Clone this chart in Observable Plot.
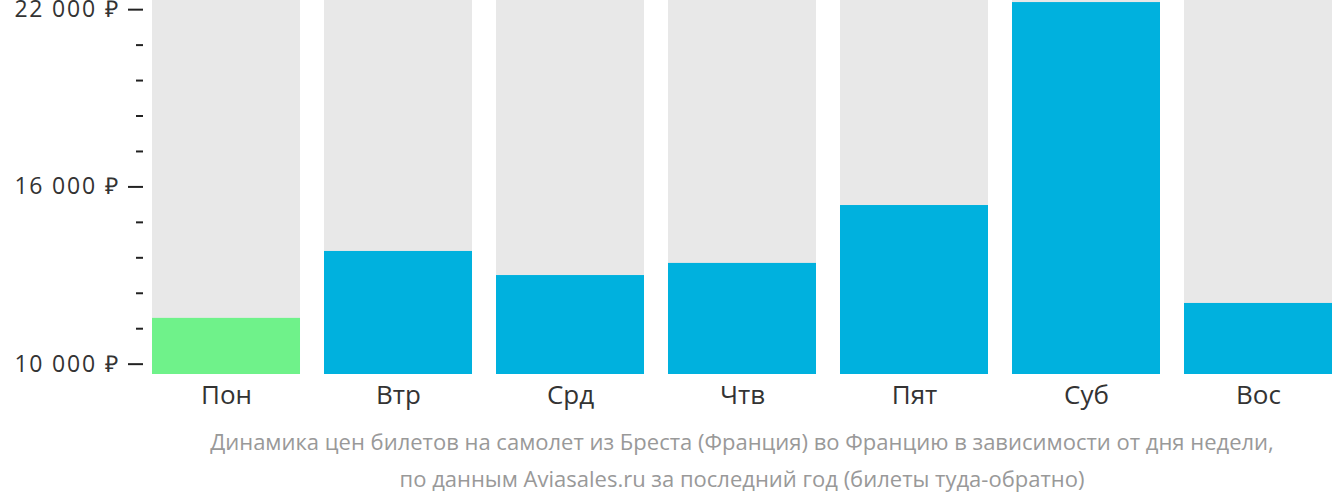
<!DOCTYPE html>
<html><head><meta charset="utf-8">
<script src="https://cdn.jsdelivr.net/npm/d3@7"></script>
<script src="https://cdn.jsdelivr.net/npm/@observablehq/plot@0.6"></script>
<style>
body{margin:0;background:#fff;font-family:"Open Sans",sans-serif;overflow:hidden;}
#chart svg{display:block;margin-top:-10px;overflow:visible;}
.ylab text{letter-spacing:1.8px;}
#cap{margin-left:152px;width:1180px;text-align:center;color:#999;font-size:22px;line-height:37px;margin-top:3px;}
</style></head><body>
<div id="chart"></div>
<div id="cap">Динамика цен билетов на самолет из Бреста (Франция) во Францию в зависимости от дня недели,<br>по данным Aviasales.ru за последний год (билеты туда-обратно)</div>
<script>
const days = ["Пон","Втр","Срд","Чтв","Пят","Суб","Вос"];
const prices = [11550, 13815, 13000, 13410, 15370, 22240, 12055];
const cheapest = "Пон";
const yDomain = [9650, 22310];
const majorTicks = [10000, 16000, 22000];
const minorTicks = [11200, 12400, 13600, 14800, 17200, 18400, 19600, 20800];

const data = days.map((d,i)=>({day:d, price:prices[i]}));
const fmt = v => d3.format(",")(v).replace(/,/g," ") + " ₽";

const chart = Plot.plot({
  width: 1332, height: 430,
  marginLeft: 152, marginRight: 0, marginTop: 10, marginBottom: 46,
  style: {fontFamily: "Open Sans, sans-serif", background: "#fff", overflow: "visible"},
  x: {domain: days, paddingInner: 0.1395, paddingOuter: 0, round: false, label: null},
  y: {domain: yDomain, label: null},
  marks: [
    Plot.barY(data, {x: "day", y1: () => yDomain[0], y2: () => yDomain[1], fill: "#e8e8e8"}),
    Plot.barY(data, {x: "day", y1: () => yDomain[0], y2: "price", fill: d => d.day === cheapest ? "#6ff28a" : "#00b1de"}),
    Plot.axisY(majorTicks, {tickSize: 15, dx: -9, tickPadding: 9, tickFormat: fmt, fontSize: 23, fill: "#333", stroke: "#222", strokeWidth: 2, strokeOpacity: 1, label: null, className: "ylab"}),
    Plot.axisY(minorTicks, {tickSize: 7, dx: -9, text: null, stroke: "#222", strokeWidth: 2, strokeOpacity: 1, label: null}),
    Plot.axisX({tickSize: 0, tickPadding: 11, fontSize: 26, fill: "#333", label: null})
  ]
});
document.getElementById("chart").appendChild(chart);
</script>
</body></html>
